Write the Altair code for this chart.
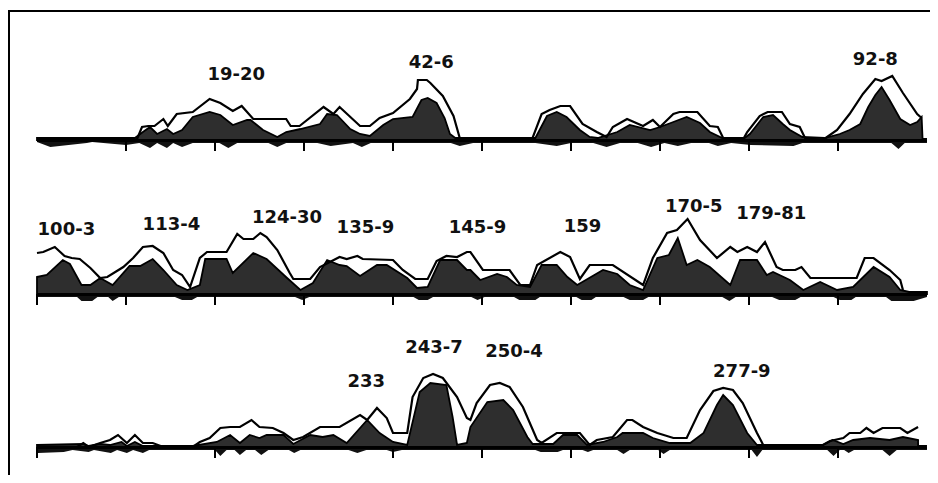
import altair as alt
import pandas as pd

# ---------------- data (residue number, profile height) ----------------
# Panel 1: residues 1-100
P1_OUT_R = [0, 11.2, 11.8, 12.5, 13.2, 14.2, 14.7, 15.7, 17.5, 19.4, 20.6, 22, 23, 24.3, 28, 28.5, 29.5, 32.2, 33.3, 34,
            36.3, 37.4, 38.5, 40, 41.9, 42.7, 42.8, 43.8, 44.2, 45.6, 46.8, 47.5, 48, 55.6, 56.7, 57.6, 58.8, 59.9, 61.3,
            62.9, 64, 64.7, 66.3, 68.1, 69.2, 70, 71.5, 72.2, 74.2, 75.6, 76.5, 77.1, 79.3, 79.8, 81.2, 82.1, 83.7, 84.6,
            85.7, 86.3, 88.3, 89.9, 91.3, 92.8, 94.2, 94.9, 96.1, 97.3, 98.9, 99.4]
P1_OUT_H = [0, 0, 13, 14, 14, 21, 14, 26, 28, 41, 37, 29, 34, 21, 21, 14, 14, 33, 26, 33,
            14, 14, 22, 27, 41, 51, 60, 60, 57, 44, 24, 2, 0, 0, 26, 30, 34, 34, 16,
            8, 3, 13, 21, 14, 20, 13, 26, 28, 28, 14, 13, 2, 0, 8, 24, 28, 28, 16,
            13, 2, 0, 10, 26, 46, 61, 59, 64, 47, 26, 22]
P1_DARK_R = [0, 11, 11.9, 12.7, 13.5, 14.6, 15.3, 16.3, 17.5, 19.4, 20.6, 22, 23.6, 24, 25.4, 27, 28, 29.6, 31.8, 32.6,
             33.7, 35.2, 36.3, 37.4, 38.9, 40, 42.2, 43.2, 43.9, 44.9, 45.8, 46.4, 47, 56, 57.3, 58.4, 59.5, 61, 62.1,
             63, 65.2, 66.6, 68.9, 70, 71.5, 73, 74.5, 75.6, 77, 79.5, 80.1, 81.6, 82.7, 83.8, 84.6, 86, 88.5, 90.2,
             91.3, 92.5, 93.4, 94.2, 94.9, 95.8, 97, 98.1, 98.9, 99.4, 99.5]
P1_DARK_H = [2, 2, 8, 13, 6, 11, 6, 10, 23, 28, 25, 15, 20, 20, 10, 3, 8, 11, 16, 26,
             25, 11, 6, 4, 15, 21, 23, 40, 42, 37, 22, 6, 2, 2, 24, 28, 23, 10, 3,
             2, 8, 15, 10, 13, 18, 23, 17, 8, 2, 2, 6, 23, 25, 16, 10, 3, 2, 6,
             10, 16, 33, 45, 53, 40, 21, 15, 18, 23, 2]
P1_LOW_R = [0, 1.5, 5.6, 6.2, 10, 11.5, 12.7, 13.5, 14.6, 15.3, 16.3, 17.5, 20.5, 21.5, 22.5, 26, 27, 28, 31.5, 33,
            35.5, 36.5, 37.5, 46.5, 47.5, 49, 56, 58.4, 60, 62.5, 64, 65.5, 67.5, 69, 70.5, 72, 73.5, 75.5, 76.5, 78,
            80.2, 85, 86, 88, 96, 96.8, 97.5, 100]
P1_LOW_H = [-2, -7, -3, -2, -5, -3, -8, -3, -8, -3, -7, -3, -3, -8, -3, -3, -7, -3, -3, -6,
            -3, -7, -3, -3, -6, -3, -3, -6, -3, -3, -7, -3, -3, -7, -3, -6, -3, -3, -6, -3,
            -5, -6, -3, -3, -3, -9, -3, -3]

# Panel 2: residues 100-200
P2_OUT_R = [100, 100.7, 102, 103.1, 103.9, 104.8, 106, 107.1, 107.9, 109.7, 110.8, 111.9, 113, 114.2, 115.3, 116.3,
            117.2, 118.3, 119.1, 121.3, 122.5, 123.2, 124.3, 125.1, 125.8, 127, 128.4, 128.8, 130.7, 131.8, 134,
            134.8, 136, 136.6, 140, 141.1, 142.5, 143.9, 144.9, 146, 147.2, 148.3, 148.7, 150.1, 153.1, 154.3, 155.4,
            156.2, 158.8, 159.9, 161, 162.1, 164.7, 168.1, 169.2, 170.8, 171.9, 173.1, 174.5, 176.4, 177.9, 178.7,
            179.8, 180.9, 181.8, 183.1, 183.8, 185.2, 185.9, 186.9, 192.1, 193, 194, 195.8, 197, 197.3]
P2_OUT_H = [41, 42, 47, 38, 36, 35, 26, 16, 17, 27, 36, 47, 48, 41, 24, 19,
            7, 36, 42, 42, 60, 55, 55, 61, 57, 44, 21, 15, 15, 27, 37,
            35, 38, 35, 34, 24, 15, 15, 33, 38, 37, 42, 42, 24, 24, 9, 9,
            29, 42, 37, 15, 29, 29, 9, 36, 61, 64, 75, 54, 36, 47, 42,
            47, 42, 52, 27, 24, 24, 27, 16, 16, 36, 36, 24, 14, 4]
P2_DARK_R = [100, 101.1, 102.9, 103.7, 105, 106, 107.1, 108.5, 110.4, 111.6, 113, 114.2, 115.7, 116.9, 118.3, 118.9,
             121.3, 122, 124.3, 125.8, 128.1, 129.6, 131, 132.6, 134, 134.8, 136.3, 138.2, 139.3, 141.6, 142.7, 143.9,
             145.3, 147.2, 148.3, 148.7, 149.8, 151.7, 152.8, 153.9, 155.4, 156.7, 158.4, 159.6, 160.7, 163.6, 165.2,
             166.6, 168.1, 169.7, 171, 172, 173, 174.2, 175.6, 177.9, 179, 180.9, 182, 182.7, 184.6, 186.1, 188,
             189.9, 191.7, 194, 195.8, 197, 198, 200]
P2_DARK_H = [17, 19, 34, 30, 9, 9, 16, 9, 28, 28, 35, 24, 9, 4, 9, 35,
             35, 21, 41, 35, 16, 4, 11, 34, 29, 28, 18, 29, 29, 16, 6, 7,
             34, 34, 24, 24, 14, 20, 17, 9, 7, 29, 29, 17, 9, 24, 20,
             9, 4, 36, 39, 56, 29, 34, 27, 9, 34, 34, 19, 22, 14, 4, 12,
             4, 7, 27, 17, 4, 2, 2]
P2_LOW_R = [100, 104.5, 105, 106.2, 106.8, 108, 108.5, 109.2, 115.5, 116.3, 117.4, 118, 129, 129.8, 130.6, 142.3,
            142.9, 143.9, 144.5, 148.8, 149.5, 150.3, 153.6, 154.2, 156, 156.5, 160.6, 161.2, 162.3, 162.8, 165.9,
            166.6, 168.1, 168.7, 177, 177.8, 178.5, 182.6, 183.4, 185.2, 185.8, 189.5, 190.2, 191.5, 192, 195.4,
            196, 198.5, 200]
P2_LOW_H = [-3, -3, -7, -7, -3, -3, -7, -3, -3, -6, -6, -3, -3, -6, -3, -3,
            -6, -6, -3, -3, -6, -3, -3, -6, -6, -3, -3, -6, -6, -3, -3,
            -6, -6, -3, -3, -7, -3, -3, -6, -6, -3, -3, -6, -6, -3, -3,
            -7, -7, -3]

# Panel 3: residues 200-300
P3_OUT_R = [200, 204.5, 205.2, 205.8, 207.1, 208.2, 209.1, 210.1, 211, 211.9, 213, 214.2, 217.5, 218.3, 219.4, 220.6,
            221.7, 222.8, 224.1, 225, 226.5, 227.7, 228.8, 229.9, 231.8, 234, 236.3, 237.1, 238.2, 239.3, 240, 241.6,
            242.2, 243.4, 244.5, 245.6, 247.2, 248.3, 248.7, 249.4, 250.9, 252, 253.1, 254.6, 256.2, 256.7, 258.4,
            261, 262.1, 262.9, 264.7, 266.3, 266.9, 268.1, 269.7, 271.5, 273, 274.5, 276, 277.1, 278.2, 279.3, 280.9,
            281.6, 288.3, 289.1, 290.6, 291.3, 292.5, 293.2, 294, 295, 297, 297.8, 299]
P3_OUT_H = [0, 0, 4, 0, 4, 7, 12, 4, 12, 4, 4, 0, 0, 5, 9, 19,
            20, 20, 27, 20, 19, 14, 7, 10, 20, 20, 32, 27, 39, 29, 14, 14,
            50, 69, 73, 69, 50, 29, 27, 44, 62, 64, 60, 40, 7, 4, 14,
            14, 2, 7, 10, 27, 27, 20, 14, 9, 9, 37, 56, 59, 57, 44, 14,
            2, 2, 6, 9, 14, 14, 19, 14, 19, 19, 14, 20]
P3_DARK_R = [200, 205.2, 205.8, 207.1, 208.2, 209.5, 210.1, 211, 211.9, 217.5, 220.2, 221.7, 222.8, 223.9, 225, 225.8,
             227.7, 228.8, 230.7, 232.1, 233.3, 234.8, 237.1, 238.5, 240, 241.6, 243, 244.2, 246, 246.7, 247.2, 248.3,
             248.7, 250.6, 252.4, 253.5, 255.1, 255.7, 258, 259.1, 260.7, 261.8, 263.6, 265.2, 265.8, 268.1, 269.2,
             271.1, 273.4, 274.9, 276.4, 277.1, 278.2, 279.8, 280.9, 288.3, 289.4, 290.6, 291.7, 293.6, 295.8, 297.3,
             299]
P3_DARK_H = [2, 3, 1, 3, 2, 5, 1, 5, 1, 1, 5, 12, 4, 12, 9, 12,
             12, 3, 12, 10, 12, 4, 27, 14, 5, 2, 55, 64, 62, 30, 2, 4,
             20, 45, 47, 37, 10, 3, 3, 12, 12, 2, 5, 10, 14, 14, 9,
             4, 4, 14, 42, 52, 42, 14, 2, 2, 7, 3, 7, 9, 7, 10,
             7]
P3_LOW_R = [200, 200.1, 203, 204, 205.8, 206.4, 208.3, 209, 210.1, 210.8, 211.9, 212.6, 220, 220.6, 221.3, 222.2,
            222.8, 223.5, 224.5, 225.2, 226, 228.3, 228.9, 229.6, 235, 236, 237, 239.3, 240, 241, 256, 256.6, 258.5,
            259.1, 261.3, 261.9, 262.5, 265.2, 265.9, 266.6, 269.8, 270.4, 271.1, 280.3, 280.9, 281.5, 288.8, 289.5,
            290.2, 290.7, 291.2, 291.8, 295, 295.8, 296.6, 299, 300]
P3_LOW_H = [-2, -6, -5, -3, -5, -3, -6, -3, -6, -3, -6, -3, -3, -9, -3, -3,
            -8, -3, -3, -8, -3, -3, -6, -3, -3, -6, -3, -3, -5, -3, -3, -5, -5,
            -3, -3, -5, -3, -3, -7, -3, -3, -7, -3, -3, -10, -3, -3, -9,
            -3, -3, -6, -3, -3, -9, -3, -3, -3]

# Peak labels
LABELS = ["19-20", "42-6", "92-8",
          "100-3", "113-4", "124-30", "135-9", "145-9", "159", "170-5", "179-81",
          "233", "243-7", "250-4", "277-9"]
LABEL_PANEL = [1, 1, 1, 2, 2, 2, 2, 2, 2, 2, 2, 3, 3, 3, 3]
LABEL_R = [22.4, 44.3, 94.2,
           103.3, 115.1, 128.1, 136.9, 149.5, 161.3, 173.8, 182.5,
           237.0, 244.6, 253.6, 279.2]
LABEL_H = [65, 77, 80,
           64, 69, 76, 66, 66, 67, 87, 80,
           65, 99, 95, 75]

# Tick marks (residue numbers)
TICKS_P1 = [10, 20, 30, 40, 50, 60, 70, 80, 90]
TICKS_P2 = [100, 110, 120, 130, 140, 150, 160, 170, 180, 190]
TICKS_P3 = [200, 220, 240, 250, 260, 270, 280, 290]

PANELS = [1, 2, 3]
PANEL_START = [0, 100, 200]
PANEL_END = [100, 200, 300]

# ---------------- layout ----------------
W, H = 922, 467
OFF_EXPR = "datum.panel == 1 ? 335 : (datum.panel == 2 ? 181 : 28)"
XO_EXPR = "datum.r - (datum.panel - 1) * 100"


def series(panel, rs, hs):
    return pd.DataFrame({"panel": panel, "r": rs, "h": hs})


outline = pd.concat([series(1, P1_OUT_R, P1_OUT_H), series(2, P2_OUT_R, P2_OUT_H),
                     series(3, P3_OUT_R, P3_OUT_H)])
dark = pd.concat([series(1, P1_DARK_R, P1_DARK_H), series(2, P2_DARK_R, P2_DARK_H),
                  series(3, P3_DARK_R, P3_DARK_H)])
low = pd.concat([series(1, P1_LOW_R, P1_LOW_H), series(2, P2_LOW_R, P2_LOW_H),
                 series(3, P3_LOW_R, P3_LOW_H)])
ticks = pd.concat([series(1, TICKS_P1, [0] * len(TICKS_P1)), series(2, TICKS_P2, [0] * len(TICKS_P2)),
                   series(3, TICKS_P3, [0] * len(TICKS_P3))])
axes_df = pd.DataFrame({"panel": PANELS, "r": PANEL_START, "r_end": PANEL_END, "h": [0, 0, 0]})
labels = pd.DataFrame({"panel": LABEL_PANEL, "r": LABEL_R, "h": LABEL_H, "label": LABELS})

xs = alt.Scale(domain=[-3.258, 100.34], nice=False, zero=False)
ys = alt.Scale(domain=[0, H], nice=False, zero=False)


def prep(ch):
    return ch.transform_calculate(
        xo=XO_EXPR, yv=f"datum.h + ({OFF_EXPR})", base=OFF_EXPR,
        tick_end=f"({OFF_EXPR}) - 11"
    )


X = alt.X("xo:Q", scale=xs, axis=None)
Y = alt.Y("yv:Q", scale=ys, axis=None)

low_area = prep(alt.Chart(low).mark_area(color="#111111", strokeWidth=0)).encode(
    x=X, y=Y, y2="base:Q", detail="panel:N")

dark_area = prep(alt.Chart(dark).mark_area(
    fill="#2e2e2e", stroke="#000000", strokeWidth=1.8)).encode(
    x=X, y=Y, y2="base:Q", detail="panel:N")

base_rule = prep(alt.Chart(axes_df).mark_rule(color="#000000", strokeWidth=4)).transform_calculate(
    xe=f"datum.r_end - (datum.panel - 1) * 100").encode(
    x=X, x2="xe:Q", y=Y)

tick_rule = prep(alt.Chart(ticks).mark_rule(color="#000000", strokeWidth=2)).encode(
    x=X, y=Y, y2="tick_end:Q")

outline_line = prep(alt.Chart(outline).mark_line(
    color="#000000", strokeWidth=2.2, strokeJoin="miter")).encode(
    x=X, y=Y, detail="panel:N")

text = prep(alt.Chart(labels).mark_text(
    font="DejaVu Sans", fontSize=18, fontWeight="bold", color="#111111",
    baseline="middle", align="center")).encode(x=X, y=Y, text="label:N")

frame_left = alt.Chart(axes_df).mark_rule(color="#000000", strokeWidth=2).encode(
    x=alt.value(1), y=alt.value(3), y2=alt.value(H))
frame_top = alt.Chart(axes_df).mark_rule(color="#000000", strokeWidth=2).encode(
    x=alt.value(0), x2=alt.value(W), y=alt.value(3))

chart = alt.layer(
    frame_left, frame_top, low_area, base_rule, dark_area, tick_rule, outline_line, text
).properties(
    width=W, height=H, autosize=alt.AutoSizeParams(type="none"), padding=0,
    background="#ffffff"
).configure_view(stroke="transparent", strokeWidth=0)

chart.save("out.html", embed_options={"renderer": "svg", "actions": False})
